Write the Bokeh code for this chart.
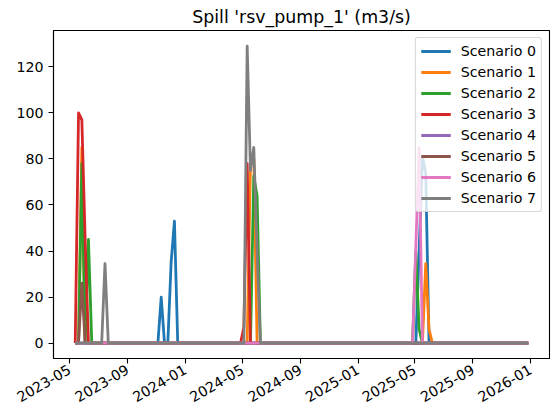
import math
import numpy as np
import pandas as pd
from bokeh.plotting import figure
from bokeh.models import FixedTicker, Range1d, ColumnDataSource, Legend, LegendItem
from bokeh.embed import file_html
from bokeh.resources import INLINE

TITLE = "Spill 'rsv_pump_1' (m3/s)"
first_date = "2023-05-13"
n_weeks = 138
scenario_names = ["Scenario 0", "Scenario 1", "Scenario 2", "Scenario 3",
                  "Scenario 4", "Scenario 5", "Scenario 6", "Scenario 7"]
colors = ["#1f77b4", "#ff7f0e", "#2ca02c", "#d62728",
          "#9467bd", "#8c564b", "#e377c2", "#7f7f7f"]
x_tick_labels = ["2023-05", "2023-09", "2024-01", "2024-05", "2024-09",
                 "2025-01", "2025-05", "2025-09", "2026-01"]
y_ticks = [0, 20, 40, 60, 80, 100, 120]

# Non-zero weekly spill values: week number -> m3/s (every other week reads 0)
scenario_0 = {26: 20, 29: 35, 30: 53, 104: 40, 105: 81, 106: 74}
scenario_1 = {2: 85, 53: 78, 54: 80, 106: 34.5, 107: 6}
scenario_2 = {2: 78, 4: 45, 54: 72.5, 55: 64, 103: 39.5, 104: 6}
scenario_3 = {1: 100, 2: 97, 3: 45, 51: 7, 52: 78}
scenario_4 = {}
scenario_5 = {2: 26}
scenario_6 = {103: 42, 104: 85}
scenario_7 = {9: 34.5, 52: 129, 53: 75, 54: 85, 55: 40}
all_scenarios = [scenario_0, scenario_1, scenario_2, scenario_3,
                 scenario_4, scenario_5, scenario_6, scenario_7]

dates = pd.date_range(first_date, periods=n_weeks, freq="7D")

p = figure(width=556, height=416, output_backend="svg", toolbar_location=None,
           x_axis_type="datetime",
           x_range=Range1d(pd.Timestamp("2023-03-28"), pd.Timestamp("2026-02-10")),
           y_range=Range1d(-6.7, 135.8),
           min_border_left=53, min_border_right=7, min_border_top=30, min_border_bottom=58)

items = []
for name, color, peaks in zip(scenario_names, colors, all_scenarios):
    values = np.zeros(n_weeks)
    for week, value in peaks.items():
        values[week] = value
    src = ColumnDataSource(dict(x=dates, y=values))
    r = p.line("x", "y", source=src, line_color=color, line_width=2.8, line_join="round")
    items.append(LegendItem(label=name, renderers=[r]))

legend = Legend(items=items, location="top_right", margin=7, padding=5, spacing=5,
                glyph_width=30, glyph_height=14, label_height=14, label_standoff=10,
                label_text_font="DejaVu Sans", label_text_font_size="14.2px",
                label_text_color="black",
                background_fill_color="white", background_fill_alpha=0.8,
                border_line_color="#cccccc", border_line_alpha=0.8, border_line_width=1.1,
                border_radius=3)
p.add_layout(legend, "center")

p.grid.visible = False
p.outline_line_color = "black"
p.outline_line_width = 1.1
p.background_fill_color = "white"
p.border_fill_color = "white"

tick_ms = [pd.Timestamp(t + "-01").value / 1e6 for t in x_tick_labels]
xa = p.xaxis[0]
xa.ticker = FixedTicker(ticks=tick_ms)
xa.major_label_overrides = {m: t for m, t in zip(tick_ms, x_tick_labels)}
xa.major_label_orientation = math.pi / 6
ya = p.yaxis[0]
ya.ticker = FixedTicker(ticks=y_ticks)
for ax in (xa, ya):
    ax.axis_line_color = "black"
    ax.axis_line_width = 1.1
    ax.major_tick_line_color = "black"
    ax.major_tick_line_width = 1.1
    ax.major_tick_in = 0
    ax.major_tick_out = 5
    ax.minor_tick_line_color = None
    ax.major_label_text_font = "DejaVu Sans"
    ax.major_label_text_font_size = "14.2px"
    ax.major_label_text_color = "black"
    ax.major_label_standoff = 5

p.title.text = TITLE
p.title.align = "center"
p.title.standoff = 8
p.title.text_font = "DejaVu Sans"
p.title.text_font_size = "17.4px"
p.title.text_font_style = "normal"
p.title.text_color = "black"

open("out.html", "w").write(file_html(p, INLINE))
